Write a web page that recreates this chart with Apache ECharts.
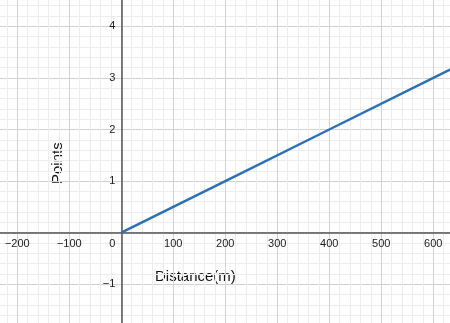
<!DOCTYPE html>
<html><head><meta charset="utf-8">
<script src="https://cdn.jsdelivr.net/npm/echarts@6/dist/echarts.min.js"></script>
<style>html,body{margin:0;padding:0;background:#fff}#c{width:450px;height:323px}</style>
</head><body><div id="c"></div>
<script>
// Line: y = x / 200
const distance = [0, 200, 400, 600, 700];
const points = [0, 1, 2, 3, 3.5];
const xTicks = [-300, -200, -100, 0, 100, 200, 300, 400, 500, 600, 700];
const yTicks = [-2, -1, 0, 1, 2, 3, 4, 5];
const xName = 'Distance(m)';
const yName = 'Points';

const fmt = v => (v < 0 ? '\u2212' + Math.abs(v) : String(v));
const chart = echarts.init(document.getElementById('c'), null, {renderer: 'canvas'});
chart.setOption({
  animation: false,
  grid: {left: -34.7, right: -35.3, top: -25.3, bottom: -12.9, containLabel: false, outerBoundsMode: 'none'},
  xAxis: {
    type: 'value', min: xTicks[0], max: xTicks[xTicks.length - 1], interval: 100,
    position: 'bottom', offset: -103.2,
    axisLine: {onZero: false, lineStyle: {color: '#555', width: 1.5}},
    axisTick: {show: false},
    axisLabel: {
      fontFamily: 'Liberation Sans, Arial, sans-serif', fontSize: 11, color: '#222', margin: 6,
      formatter: v => v === 0 ? '{z|0}' : fmt(v),
      rich: {z: {fontFamily: 'Liberation Sans, Arial, sans-serif', fontSize: 11, color: '#222', padding: [0, 18, 0, 0]}}
    },
    splitLine: {show: true, lineStyle: {color: '#d2d2d2', width: 1}},
    minorTick: {show: false, splitNumber: 5},
    minorSplitLine: {show: true, lineStyle: {color: '#ededed', width: 1}}
  },
  yAxis: {
    type: 'value', min: yTicks[0], max: yTicks[yTicks.length - 1], interval: 1,
    position: 'left', offset: -156,
    axisLine: {onZero: false, lineStyle: {color: '#555', width: 1.5}},
    axisTick: {show: false},
    axisLabel: {
      fontFamily: 'Liberation Sans, Arial, sans-serif', fontSize: 11, color: '#222', margin: 6,
      formatter: v => v === 0 ? '' : fmt(v)
    },
    splitLine: {show: true, lineStyle: {color: '#d2d2d2', width: 1}},
    minorTick: {show: false, splitNumber: 5},
    minorSplitLine: {show: true, lineStyle: {color: '#ededed', width: 1}}
  },
  graphic: [
    {type: 'text', left: 155, top: 269, style: {text: xName, font: '15px "Liberation Sans", Arial, sans-serif', fill: '#111', stroke: 'none', lineWidth: 0}},
    {type: 'text', x: 50, y: 184, rotation: Math.PI / 2, style: {text: yName, font: '15px "Liberation Sans", Arial, sans-serif', fill: '#111', stroke: 'none', lineWidth: 0}}
  ],
  series: [{
    type: 'line', data: distance.map((d, i) => [d, points[i]]),
    showSymbol: false, lineStyle: {color: '#2d70b3', width: 2.5}, clip: true
  }]
});
</script></body></html>
